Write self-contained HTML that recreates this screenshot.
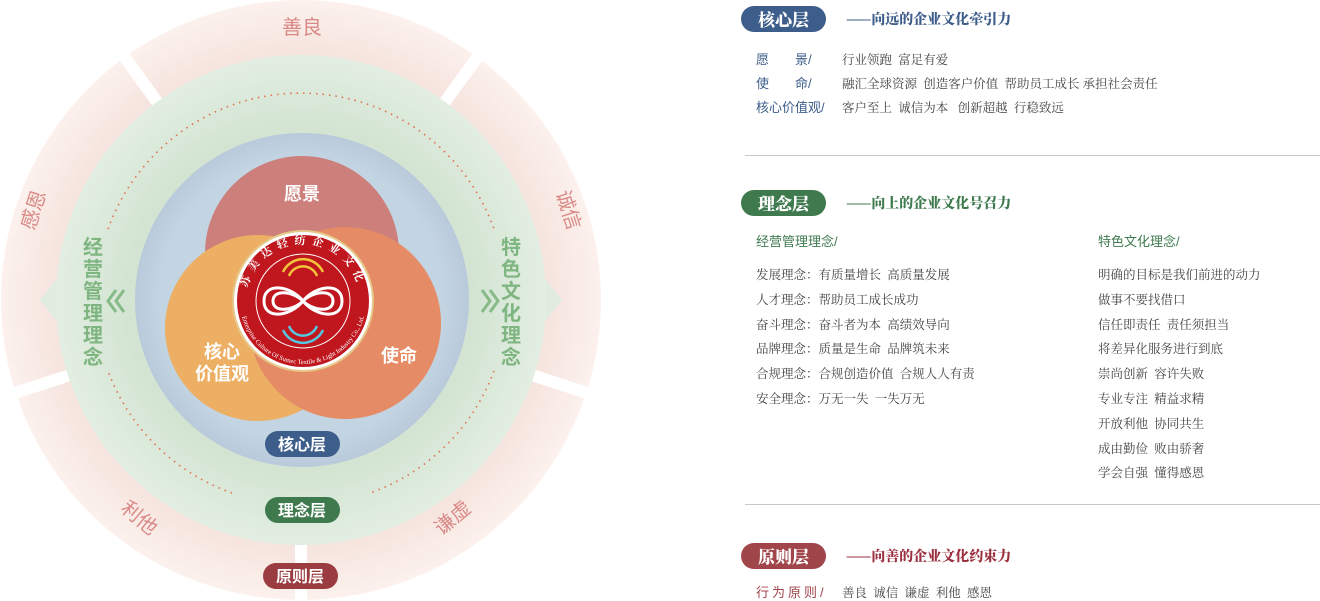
<!DOCTYPE html>
<html><head><meta charset="utf-8"><style>
body{margin:0;width:1320px;height:601px;background:#fff;position:relative;overflow:hidden;font-family:"Liberation Serif","Noto Serif CJK SC",serif;}
.t{position:absolute;white-space:nowrap;line-height:1;}
.pill{position:absolute;width:85px;height:26px;border-radius:13px;color:#fff;font-family:"Noto Serif CJK SC",serif;font-weight:900;font-size:17px;text-align:center;line-height:26px;}
.tag{position:absolute;font-family:"Noto Serif CJK SC",serif;font-weight:900;font-size:14px;line-height:1;}
.c{font-size:12.5px;color:#444;}
.lb{font-family:"Liberation Sans","Noto Sans CJK SC",sans-serif;font-size:13px;}
.hr{position:absolute;left:745px;width:575px;height:1px;background:#c8c8c8;}
</style></head><body>
<svg width="610" height="601" style="position:absolute;left:0;top:0" font-family="Liberation Sans, Noto Sans CJK SC, sans-serif">
<defs>
<radialGradient id="pk" cx="50%" cy="50%" r="50%"><stop offset="80%" stop-color="#f5e2dc"/><stop offset="100%" stop-color="#fcf1ed"/></radialGradient>
<radialGradient id="gr" cx="50%" cy="50%" r="50%"><stop offset="70%" stop-color="#d3e4d2"/><stop offset="100%" stop-color="#e2eee2"/></radialGradient>
<radialGradient id="bl" cx="50%" cy="50%" r="50%"><stop offset="85%" stop-color="#c3d4e2"/><stop offset="100%" stop-color="#b9cadb"/></radialGradient>
<path id="arcT" d="M246,301 A57,57 0 0 1 360,301"/>
<path id="arcB" d="M240,301 A63,63 0 0 0 366,301"/>
</defs>
<circle cx="301" cy="300" r="300" fill="url(#pk)"/>
<g stroke="#fff" stroke-width="12">
<line x1="301" y1="300" x2="301" y2="-10" transform="rotate(-36 301 300)"/>
<line x1="301" y1="300" x2="301" y2="-10" transform="rotate(36 301 300)"/>
<line x1="301" y1="300" x2="301" y2="-10" transform="rotate(-108 301 300)"/>
<line x1="301" y1="300" x2="301" y2="-10" transform="rotate(108 301 300)"/>
<line x1="301" y1="300" x2="301" y2="-10" transform="rotate(180 301 300)"/>
</g>
<polygon points="40,300 60,275 60,325" fill="#e0ece0"/>
<polygon points="562,300 542,275 542,325" fill="#e0ece0"/>
<circle cx="301" cy="300" r="245" fill="url(#gr)"/>
<g fill="none" stroke="#e0704f" stroke-width="1.6" stroke-dasharray="1.5 5">
<path d="M108,229 A205,205 0 0 1 494,229"/>
<path d="M494,371 A205,205 0 0 1 370,493"/>
<path d="M232,493 A205,205 0 0 1 108,371"/>
</g>
<circle cx="302" cy="300" r="167" fill="url(#bl)"/>
<circle cx="302" cy="253" r="97" fill="#cc7f7b"/>
<circle cx="258" cy="328" r="93" fill="#ecaf63"/>
<circle cx="345" cy="323" r="96" fill="#e58c66"/>
<text x="302" y="200" fill="#fff" font-size="18" font-weight="bold" text-anchor="middle">愿景</text>
<text x="222" y="358" fill="#fff" font-size="18" font-weight="bold" text-anchor="middle">核心</text>
<text x="222" y="380" fill="#fff" font-size="18" font-weight="bold" text-anchor="middle">价值观</text>
<text x="399" y="362" fill="#fff" font-size="18" font-weight="bold" text-anchor="middle">使命</text>
<circle cx="303" cy="301" r="70" fill="#fff" stroke="#e6c98a" stroke-width="2"/>
<circle cx="303" cy="301" r="66" fill="#c0161e"/>
<circle cx="303" cy="301" r="47" fill="none" stroke="#fff" stroke-width="1"/>
<g fill="none" stroke="#f2c53c" stroke-width="2.5"><path d="M283,272 A22,22 0 0 1 323,272"/><path d="M289,276 A15,15 0 0 1 317,276"/></g>
<g fill="none" stroke="#55c7e0" stroke-width="2.5"><path d="M283,330 A22,22 0 0 0 323,330"/><path d="M289,326 A15,15 0 0 0 317,326"/></g>
<g fill="none" stroke="#fff" stroke-width="3">
<path d="M303,301 C290,285 264,282 264,301 C264,320 290,317 303,301 C316,285 342,282 342,301 C342,320 316,317 303,301Z"/>
<path d="M303,301 C293,291 273,289 273,301 C273,313 293,311 303,301 C313,291 333,289 333,301 C333,313 313,311 303,301Z"/>
</g>
<text font-size="11" fill="#fff" font-weight="bold" font-family="Noto Serif CJK SC,serif" letter-spacing="6"><textPath href="#arcT" startOffset="50%" text-anchor="middle">苏美达轻纺企业文化</textPath></text>
<text font-size="6.5" fill="#fff" font-family="Liberation Serif,serif"><textPath href="#arcB" startOffset="50%" text-anchor="middle">Enterprise Culture Of Sumec Textile &amp; Light Industry Co., Ltd.</textPath></text>
<rect x="265" y="431" width="75" height="26" rx="13" fill="#3d5d8a"/>
<text x="302" y="450" fill="#fff" font-size="16" font-weight="bold" text-anchor="middle">核心层</text>
<rect x="265" y="497" width="75" height="26" rx="13" fill="#3e7a4e"/>
<text x="302" y="516" fill="#fff" font-size="16" font-weight="bold" text-anchor="middle">理念层</text>
<rect x="263" y="563" width="75" height="26" rx="13" fill="#9b3c40"/>
<text x="300" y="582" fill="#fff" font-size="16" font-weight="bold" text-anchor="middle">原则层</text>
<g fill="#d98a86" font-size="20" text-anchor="middle">
<text x="302" y="34">善良</text>
<text transform="translate(40,212) rotate(-72)">感恩</text>
<text transform="translate(562,212) rotate(72)">诚信</text>
<text transform="translate(135,523) rotate(40)">利他</text>
<text transform="translate(457,523) rotate(-40)">谦虚</text>
</g>
<g fill="#7fb581" font-size="20" font-weight="bold" text-anchor="middle">
<text x="93" y="254">经</text><text x="93" y="276">营</text><text x="93" y="298">管</text><text x="93" y="320">理</text><text x="93" y="342">理</text><text x="93" y="364">念</text>
<text x="511" y="254">特</text><text x="511" y="276">色</text><text x="511" y="298">文</text><text x="511" y="320">化</text><text x="511" y="342">理</text><text x="511" y="364">念</text>
</g>
<g fill="none" stroke="#86bb88" stroke-width="3">
<path d="M116,290 L108,301 L116,312 M124,290 L116,301 L124,312"/>
<path d="M482,290 L490,301 L482,312 M490,290 L498,301 L490,312"/>
</g>
</svg>

<div class="pill" style="left:741px;top:6px;background:#3d5d8a">核心层</div>
<div class="tag" style="left:846px;top:12px;color:#3d5d8a">——向远的企业文化牵引力</div>
<div class="t lb" style="left:756px;top:53px;color:#3d5d8a">愿&emsp;&emsp;景/</div><div class="t c" style="left:842px;top:54px">行业领跑&nbsp;&nbsp;富足有爱</div>
<div class="t lb" style="left:756px;top:77px;color:#3d5d8a">使&emsp;&emsp;命/</div><div class="t c" style="left:842px;top:78px">融汇全球资源&nbsp;&nbsp;创造客户价值&nbsp;&nbsp;帮助员工成长 承担社会责任</div>
<div class="t lb" style="left:756px;top:101px;color:#3d5d8a">核心价值观/</div><div class="t c" style="left:842px;top:102px">客户至上&nbsp;&nbsp;诚信为本&nbsp;&nbsp;&nbsp;创新超越&nbsp;&nbsp;行稳致远</div>
<div class="hr" style="top:155px"></div>

<div class="pill" style="left:741px;top:190px;background:#3e7a4e">理念层</div>
<div class="tag" style="left:846px;top:196px;color:#3e7a4e">——向上的企业文化号召力</div>
<div class="t lb" style="left:756px;top:235px;color:#3e7a4e">经营管理理念/</div>
<div class="t lb" style="left:1098px;top:235px;color:#3e7a4e">特色文化理念/</div>
<div class="t c" style="left:756px;top:263px;line-height:24.8px">发展理念：有质量增长&nbsp;&nbsp;高质量发展<br>人才理念：帮助员工成长成功<br>奋斗理念：奋斗者为本&nbsp;&nbsp;高绩效导向<br>品牌理念：质量是生命&nbsp;&nbsp;品牌筑未来<br>合规理念：合规创造价值&nbsp;&nbsp;合规人人有责<br>安全理念：万无一失&nbsp;&nbsp;一失万无</div>
<div class="t c" style="left:1098px;top:263px;line-height:24.8px">明确的目标是我们前进的动力<br>做事不要找借口<br>信任即责任&nbsp;&nbsp;责任须担当<br>将差异化服务进行到底<br>崇尚创新&nbsp;&nbsp;容许失败<br>专业专注&nbsp;&nbsp;精益求精<br>开放利他&nbsp;&nbsp;协同共生<br>成由勤俭&nbsp;&nbsp;败由骄奢<br>学会自强&nbsp;&nbsp;懂得感恩</div>
<div class="hr" style="top:504px"></div>

<div class="pill" style="left:741px;top:543px;background:#a0454a">原则层</div>
<div class="tag" style="left:846px;top:549px;color:#9b3040">——向善的企业文化约束力</div>
<div class="t lb" style="left:756px;top:586px;color:#a0454a;letter-spacing:3px">行为原则/</div><div class="t c" style="left:842px;top:587px">善良&nbsp;&nbsp;诚信&nbsp;&nbsp;谦虚&nbsp;&nbsp;利他&nbsp;&nbsp;感恩</div>
</body></html>
